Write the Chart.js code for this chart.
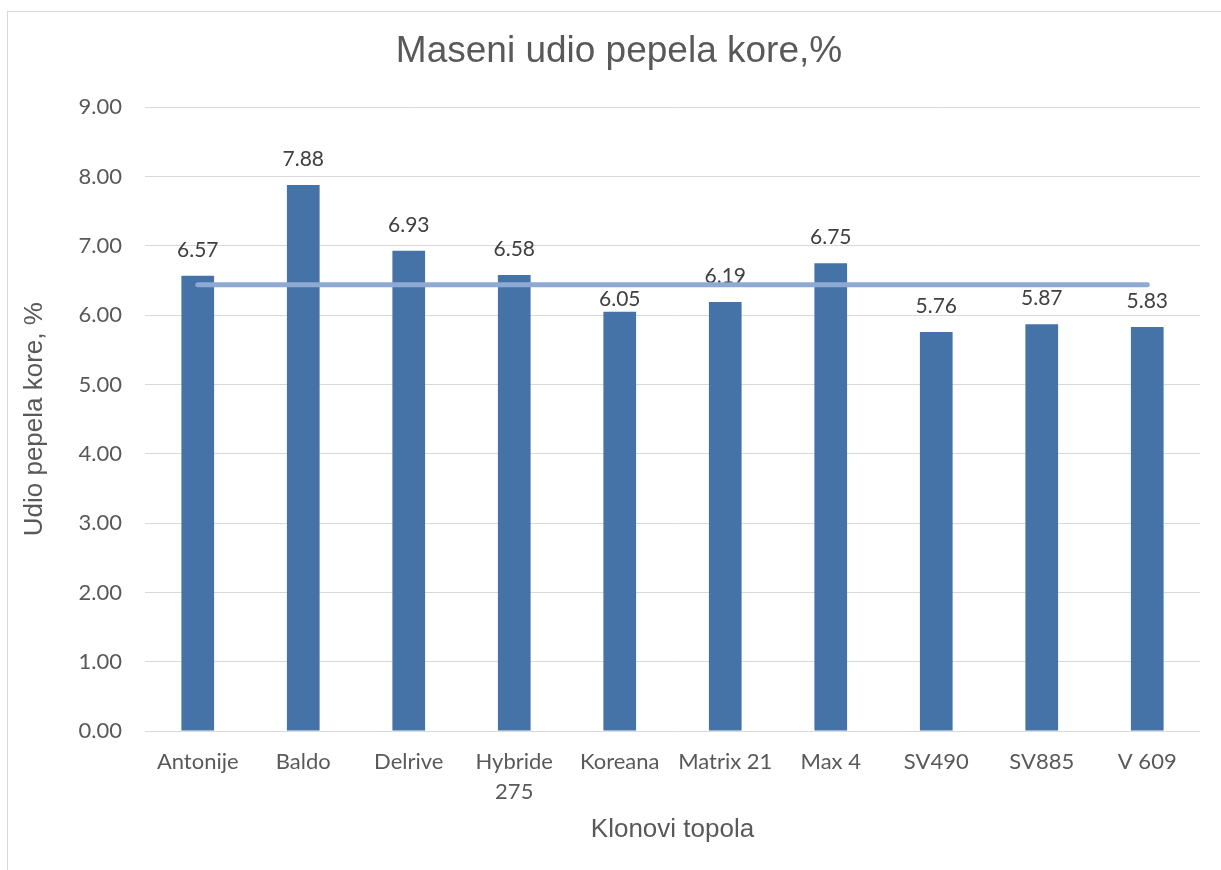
<!DOCTYPE html>
<html>
<head>
<meta charset="utf-8">
<title>Maseni udio pepela kore</title>
<script src="https://cdn.jsdelivr.net/npm/chart.js@4.4.1/dist/chart.umd.min.js"></script>
<style>
    body { margin: 0; background: #fff; }
    #wrap { position: relative; width: 1221px; height: 870px; overflow: hidden; }
    #okvir {
        position: absolute; left: 7px; top: 11px; width: 1240px; height: 900px;
        border-left: 1px solid #d9d9d9; border-top: 1px solid #d9d9d9;
        pointer-events: none;
    }
</style>
</head>
<body>
<div id="wrap">
    <canvas id="graf" width="1221" height="870"></canvas>
    <div id="okvir"></div>
</div>
<script>
// Podaci
const kategorije = ['Antonije', 'Baldo', 'Delrive', ['Hybride', '275'], 'Koreana', 'Matrix 21', 'Max 4', 'SV490', 'SV885', 'V 609'];
const udioPepela = [6.57, 7.88, 6.93, 6.58, 6.05, 6.19, 6.75, 5.76, 5.87, 5.83];
const prosjek = [6.44, 6.44, 6.44, 6.44, 6.44, 6.44, 6.44, 6.44, 6.44, 6.44];
const yMin = 0, yMax = 9, yKorak = 1;

const naslov = 'Maseni udio pepela kore,%';
const naslovY = 'Udio pepela kore, %';
const naslovX = 'Klonovi topola';

// Oznake vrijednosti iznad stupaca (oznaka za Koreana je spustena ispod linije)
const oznakePlugin = {
    id: 'oznake',
    afterDatasetDraw(chart, args) {
        if (args.index !== 0) return;
        const ctx = chart.ctx;
        const meta = chart.getDatasetMeta(0);
        const pomak = { 4: 13 };
        ctx.save();
        ctx.font = '21px Lato';
        ctx.fillStyle = '#404040';
        ctx.textAlign = 'center';
        ctx.textBaseline = 'middle';
        meta.data.forEach((bar, i) => {
            ctx.fillText(udioPepela[i].toFixed(2), bar.x, bar.y - (pomak[i] || 26));
        });
        ctx.restore();
    }
};

const ctx = document.getElementById('graf').getContext('2d');
new Chart(ctx, {
    data: {
        labels: kategorije,
        datasets: [{
            type: 'bar',
            data: udioPepela,
            backgroundColor: '#4572a7',
            barPercentage: 0.31,
            categoryPercentage: 1,
            order: 1
        }, {
            type: 'line',
            data: prosjek,
            borderColor: '#8faad2',
            borderWidth: 5,
            borderCapStyle: 'round',
            pointRadius: 0,
            fill: false,
            order: 0
        }]
    },
    options: {
        responsive: false,
        animation: false,
        layout: { padding: { top: 0, left: 38, right: 21, bottom: 0 } },
        plugins: {
            legend: { display: false },
            tooltip: { enabled: false },
            title: {
                display: true,
                text: naslov,
                color: '#595959',
                font: { family: 'Liberation Sans', size: 37, weight: 'normal', lineHeight: 1.2 },
                padding: { top: 30, bottom: 33 }
            }
        },
        scales: {
            x: {
                grid: { display: false, drawTicks: false },
                border: { display: false },
                ticks: {
                    color: '#595959',
                    font: { family: 'Lato', size: 22, lineHeight: 1.36 },
                    padding: 16,
                    maxRotation: 0,
                    autoSkip: false
                },
                title: {
                    display: true,
                    text: naslovX,
                    color: '#595959',
                    font: { family: 'Liberation Sans', size: 26, lineHeight: 1.2 },
                    padding: { top: 0, bottom: 25 }
                },
                afterFit: (scale) => { scale.height = 139; }
            },
            y: {
                min: yMin,
                max: yMax,
                grid: { color: '#d9d9d9', lineWidth: 1, drawTicks: false },
                border: { display: false },
                ticks: {
                    stepSize: yKorak,
                    color: '#595959',
                    font: { family: 'Lato', size: 22 },
                    padding: 23,
                    callback: (v) => Number(v).toFixed(2)
                },
                title: {
                    display: true,
                    text: naslovY,
                    color: '#595959',
                    font: { family: 'Liberation Sans', size: 26, lineHeight: 1.2 },
                    padding: { top: -18.6, bottom: 0 }
                },
                afterFit: (scale) => { scale.width = 107; }
            }
        }
    },
    plugins: [oznakePlugin]
});
</script>
</body>
</html>
